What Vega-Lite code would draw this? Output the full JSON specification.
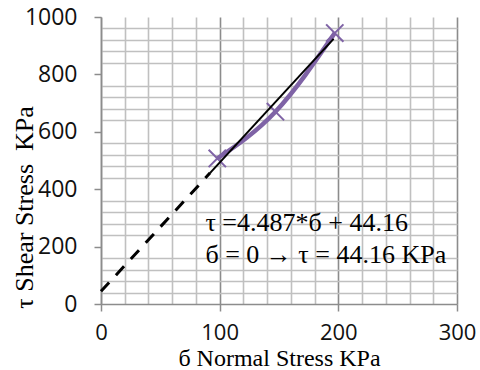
{
  "$schema": "https://vega.github.io/schema/vega-lite/v6.json",
  "width": 356,
  "height": 287,
  "autosize": {"type": "none"},
  "padding": {"left": 101, "top": 17, "right": 23, "bottom": 66},
  "background": "white",
  "config": {"view": {"stroke": null}},
  "datasets": {
    "points": [
      {"sigma": 98, "tau": 507},
      {"sigma": 147, "tau": 670},
      {"sigma": 197, "tau": 944}
    ],
    "trendSolid": [
      {"sigma": 92, "tau": 457},
      {"sigma": 196, "tau": 924}
    ],
    "trendDashed": [
      {"sigma": 0, "tau": 44.16},
      {"sigma": 92, "tau": 457}
    ],
    "notes": [
      {"sigma": 88, "tau": 283, "note": "τ =4.487*б + 44.16"},
      {"sigma": 88, "tau": 172, "note": "б = 0 → τ = 44.16 KPa"}
    ]
  },
  "layer": [
    {
      "data": {"name": "points"},
      "mark": {"type": "line", "color": "#7F63A6", "strokeWidth": 4.5, "interpolate": "monotone"},
      "encoding": {
        "x": {
          "field": "sigma", "type": "quantitative",
          "scale": {"domain": [0, 300], "nice": false, "zero": false},
          "axis": {
            "title": "б Normal Stress KPa",
            "titleFont": "Liberation Serif", "titleFontSize": 24, "titleFontWeight": "normal", "titleColor": "#000000",
            "titleBaseline": "alphabetic", "titleY": 61,
            "values": [0, 20, 40, 60, 80, 100, 120, 140, 160, 180, 200, 220, 240, 260, 280, 300],
            "tickCount": 100,
            "grid": true,
            "gridColor": {"condition": {"test": "datum.value % 100 === 0", "value": "#8c8c8c"}, "value": "#c0c0c0"},
            "gridWidth": 1.6,
            "domainColor": "#8c8c8c", "domainWidth": 1.5,
            "tickColor": "#8c8c8c", "tickWidth": 1.5, "tickSize": 7,
            "tickOpacity": {"condition": {"test": "datum.value % 100 === 0", "value": 1}, "value": 0},
            "labelExpr": "datum.value % 100 === 0 ? toString(datum.value) : ''",
            "labelFont": "Open Sans", "labelFontSize": 22, "labelColor": "#111111",
            "labelPadding": 11, "labelFlush": false, "labelOverlap": false, "labelBaseline": "top"
          }
        },
        "y": {
          "field": "tau", "type": "quantitative",
          "scale": {"domain": [0, 1000], "nice": false},
          "axis": {
            "title": "τ Shear Stress \u00a0KPa",
            "titleFont": "Liberation Serif", "titleFontSize": 26, "titleFontWeight": "normal", "titleColor": "#000000",
            "titleBaseline": "alphabetic", "titleAlign": "center", "titleAngle": -90, "titleX": -69, "titleY": 190,
            "values": [0, 40, 80, 120, 160, 200, 240, 280, 320, 360, 400, 440, 480, 520, 560, 600, 640, 680, 720, 760, 800, 840, 880, 920, 960, 1000],
            "tickCount": 100,
            "grid": true,
            "gridColor": "#c0c0c0",
            "gridWidth": 1.6,
            "gridOpacity": {"condition": {"test": "datum.value % 200 === 0", "value": 0}, "value": 1},
            "domainColor": "#8c8c8c", "domainWidth": 1.5,
            "tickColor": "#8c8c8c", "tickWidth": 1.5, "tickSize": 7,
            "tickOpacity": {"condition": {"test": "datum.value % 200 === 0", "value": 1}, "value": 0},
            "labelExpr": "datum.value % 200 === 0 ? toString(datum.value) : ''",
            "labelFont": "Open Sans", "labelFontSize": 23, "labelColor": "#111111",
            "labelPadding": 17, "labelOverlap": false, "labelFlush": false, "labelBaseline": "middle"
          }
        }
      }
    },
    {
      "data": {"name": "points"},
      "mark": {"type": "point", "shape": "M-1,-1L1,1M-1,1L1,-1", "filled": false, "color": "#7F63A6", "strokeWidth": 2, "size": 300, "opacity": 1},
      "encoding": {
        "x": {"field": "sigma", "type": "quantitative"},
        "y": {"field": "tau", "type": "quantitative"}
      }
    },
    {
      "data": {"name": "trendDashed"},
      "mark": {"type": "line", "color": "#000000", "strokeWidth": 3, "strokeDash": [12, 10]},
      "encoding": {
        "x": {"field": "sigma", "type": "quantitative"},
        "y": {"field": "tau", "type": "quantitative"}
      }
    },
    {
      "data": {"name": "trendSolid"},
      "mark": {"type": "line", "color": "#000000", "strokeWidth": 2},
      "encoding": {
        "x": {"field": "sigma", "type": "quantitative"},
        "y": {"field": "tau", "type": "quantitative"}
      }
    },
    {
      "data": {"name": "notes"},
      "mark": {"type": "text", "align": "left", "baseline": "middle", "font": "Liberation Serif", "fontSize": 26, "color": "#000000"},
      "encoding": {
        "x": {"field": "sigma", "type": "quantitative"},
        "y": {"field": "tau", "type": "quantitative"},
        "text": {"field": "note"}
      }
    }
  ]
}
